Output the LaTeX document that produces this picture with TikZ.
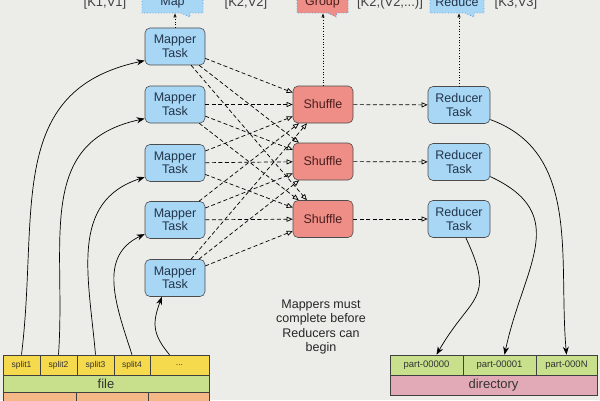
\documentclass[tikz,border=0pt]{standalone}
\usepackage{fontspec}
\setmainfont{Liberation Sans}
\usetikzlibrary{arrows.meta,shapes.callouts}
\definecolor{bgcol}{HTML}{ECECE8}
\definecolor{mapblue}{HTML}{A8D6F5}
\definecolor{shufred}{HTML}{EE8E86}
\definecolor{taskink}{HTML}{22354A}
\definecolor{shufink}{HTML}{4A1E1E}
\definecolor{yelc}{HTML}{F6DA4E}
\definecolor{grnc}{HTML}{C8E08C}
\definecolor{pinkc}{HTML}{E2AAB6}
\definecolor{orgc}{HTML}{F4B886}
\definecolor{callblue}{HTML}{5A9EDC}
\tikzset{
  task/.style={draw=black!70, line width=0.6pt, rounded corners=5pt, fill=mapblue, text=taskink,
    minimum width=60pt, minimum height=37pt, inner sep=1pt, align=center,
    font=\fontsize{12.5}{13.5}\selectfont},
  shuf/.style={task, fill=shufred, text=shufink},
  cell/.style={draw=black!75, line width=0.6pt, inner sep=0pt, minimum height=20pt, text=black!80,
    font=\fontsize{8.5}{10}\selectfont},
  wide/.style={cell, font=\fontsize{13}{15}\selectfont},
  flow/.style={dash pattern=on 4pt off 2.5pt, line width=0.7pt, -{Triangle[open,length=6pt,width=5pt]}},
  feed/.style={line width=0.7pt, -{Stealth[length=8pt,width=6pt]}},
  tag/.style={dotted, line width=0.7pt, -{Triangle[open,length=4pt,width=3pt]}},
  bubble/.style={rectangle callout, draw=callblue, dotted, line width=0.8pt, minimum height=22pt,
    callout pointer width=9pt, inner sep=0pt, font=\fontsize{12.5}{14}\selectfont},
  kv/.style={text=black!75, font=\fontsize{13}{15}\selectfont}
}

\begin{document}
\begin{tikzpicture}[x=1pt,y=1pt]
		%%%%% START %%%%%
		\useasboundingbox (0,0) rectangle (600,400);
		\fill[bgcol] (0,0) rectangle (600,400);
		\clip (0,0) rectangle (600,400);
		
		\node[task] (m1) at (175,353.5) {Mapper\\Task};
		\node[task] (m2) at (175,295.5) {Mapper\\Task};
		\node[task] (m3) at (175,237) {Mapper\\Task};
		\node[task] (m4) at (175,180) {Mapper\\Task};
		\node[task] (m5) at (175,122) {Mapper\\Task};
		
		\node[shuf] (s1) at (323,295.5) {Shuffle};
		\node[shuf] (s2) at (323,238.5) {Shuffle};
		\node[shuf] (s3) at (323,181) {Shuffle};
		
		\node[task, minimum width=62pt] (r1) at (459,295) {Reducer\\Task};
		\node[task, minimum width=62pt] (r2) at (459,238) {Reducer\\Task};
		\node[task, minimum width=62pt] (r3) at (459,181) {Reducer\\Task};
		
		\node[bubble, fill=mapblue, text=taskink, minimum width=61pt, callout absolute pointer={(190,383)}] (map) at (172.5,398) {Map};
		\node[bubble, fill=shufred, text=shufink, minimum width=51pt, callout absolute pointer={(336,383)}] (grp) at (322.5,398) {Group};
		\node[bubble, fill=mapblue, text=taskink, minimum width=54pt, callout absolute pointer={(474,383)}] (red) at (457,398) {Reduce};
		
		\node[kv] (kv1) at (105,397) {[K1,V1]};
		\node[kv] (kv2) at (246,397) {[K2,V2]};
		\node[kv] (kv3) at (390,397) {[K2,(V2,...)]};
		\node[kv] (kv4) at (516,397) {[K3,V3]};
		
		\draw[tag] (m1.north) -- (m1.north |- map.south);
		\draw[tag] (s1.north) -- (s1.north |- grp.south);
		\draw[tag] (r1.north) -- (r1.north |- red.south);
		
		% input file
		\node[cell, fill=yelc, minimum width=37pt] (sp1) at (21.5,35) {split1};
		\node[cell, fill=yelc, minimum width=37pt] (sp2) at (58.5,35) {split2};
		\node[cell, fill=yelc, minimum width=37pt] (sp3) at (95.5,35) {split3};
		\node[cell, fill=yelc, minimum width=36pt] (sp4) at (132,35) {split4};
		\node[cell, fill=yelc, minimum width=59pt] (spx) at (179.5,35) {...};
		\node[wide, fill=grnc, minimum width=206pt, minimum height=17pt] (file) at (106,16.5) {file};
		\node[cell, fill=orgc, minimum width=73pt, minimum height=18pt] (blk1) at (39.5,-1) {};
		\node[cell, fill=orgc, minimum width=72pt, minimum height=18pt] (blk2) at (112,-1) {};
		\node[cell, fill=orgc, minimum width=61pt, minimum height=18pt] (blk3) at (178.5,-1) {};
		
		% output directory
		\node[cell, fill=grnc, minimum width=73pt, font=\fontsize{9.5}{11}\selectfont] (p0) at (426.5,35) {part-00000};
		\node[cell, fill=grnc, minimum width=73pt, font=\fontsize{9.5}{11}\selectfont] (p1) at (499.5,35) {part-00001};
		\node[cell, fill=grnc, minimum width=61pt, font=\fontsize{9.5}{11}\selectfont] (pN) at (566.5,35) {part-000N};
		\node[wide, fill=pinkc, minimum width=207pt] (dir) at (493.5,15) {directory};
		
		\node[kv, align=center, font=\fontsize{12.5}{14.5}\selectfont, text=black!85] (note) at (321,73) {Mappers must\\complete before\\Reducers can\\begin};
		
		\foreach \i in {1,...,5}{
			\foreach \j in {1,2,3}{
				\draw[flow] (m\i) -- (s\j);
			}
		}
		\foreach \j in {1,2,3}{
			\draw[flow] (s\j) -- (r\j);
		}
		
		\draw[feed] (sp1.north) to[out=83,in=192,looseness=1.15] (m1.205);
		\draw[feed] (sp2.north) to[out=86,in=192,looseness=1.15] (m2.205);
		\draw[feed] (sp3.north) to[out=95,in=198,looseness=1.1] (m3.205);
		\draw[feed] (sp4.north) to[out=108,in=205,looseness=1.1] (m4.205);
		\draw[feed] ([xshift=-10pt]spx.north) to[out=130,in=250,looseness=1.2] (m5.235);
		
		\draw[feed] (r1.335) to[out=-20,in=95] (pN.north);
		\draw[feed] (r2.335) to[out=-25,in=78,looseness=1.3] ([xshift=5pt]p1.north);
		\draw[feed] (r3.290) to[out=-65,in=60,looseness=1.5] ([xshift=10pt]p0.north);
		
		%%%%% END %%%%%
\end{tikzpicture}
\end{document}
